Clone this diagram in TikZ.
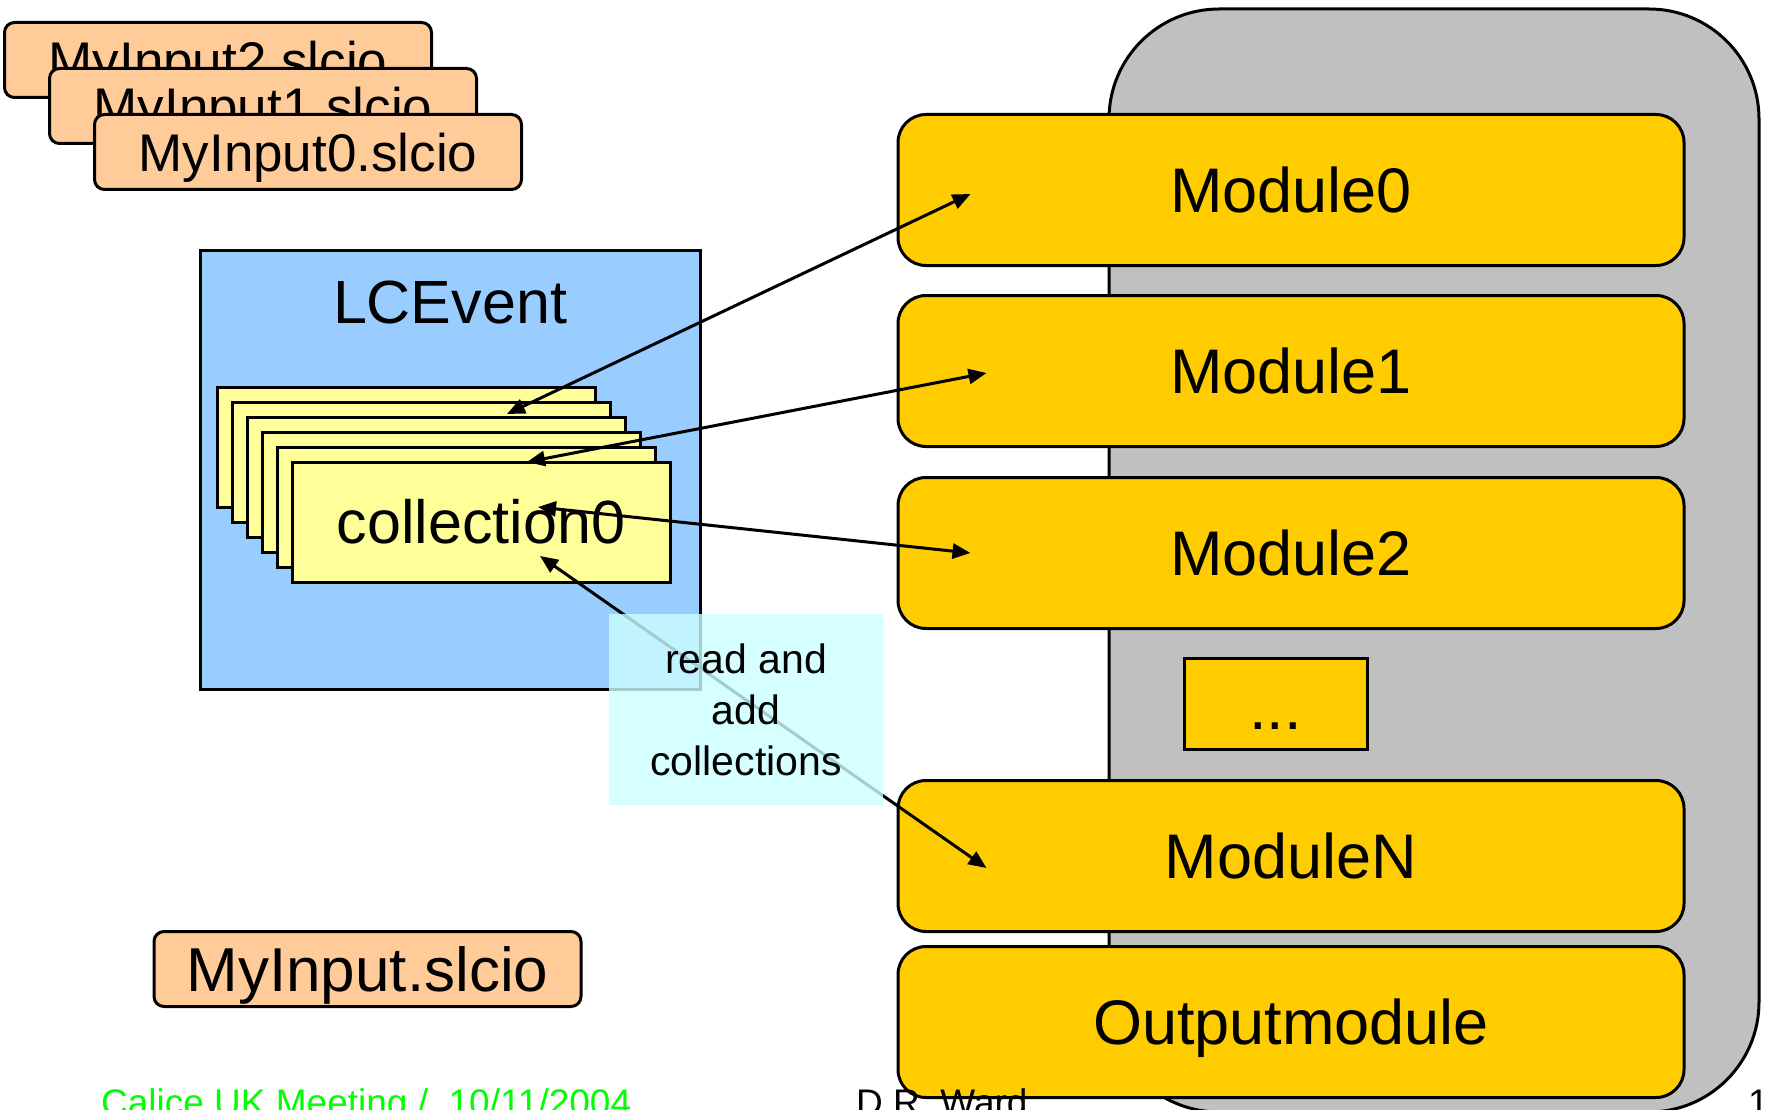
\documentclass[tikz,border=0pt]{standalone}
\usepackage{fontspec}
\setmainfont{Liberation Sans}
\usetikzlibrary{arrows.meta,positioning}
\definecolor{modyel}{HTML}{FFCC00}
\definecolor{filorg}{HTML}{FFCC99}
\definecolor{evblue}{HTML}{99CCFF}
\definecolor{colyel}{HTML}{FFFF99}
\definecolor{notecy}{HTML}{CCFFFF}
\definecolor{pangray}{HTML}{C0C0C0}
\definecolor{footgrn}{HTML}{00FF00}
\newcommand\sz[2]{\fontsize{#1}{#2}\selectfont}
\tikzset{
 mx/.style={rectangle,rounded corners=28pt,draw,line width=3pt,fill=modyel,inner sep=0pt,
  minimum width=786pt,minimum height=151pt,font=\sz{63}{70},text depth=0pt},
 fx/.style={rectangle,rounded corners=10pt,draw,line width=3pt,fill=filorg,inner sep=0pt,
  minimum width=427pt,minimum height=75pt,text depth=0pt},
 cx/.style={rectangle,draw,line width=3pt,fill=colyel,inner sep=0pt,
  minimum width=378pt,minimum height=120pt},
 ax/.style={line width=3pt,{Triangle[length=18pt,width=15pt]}-{Triangle[length=18pt,width=15pt]}},
 tx/.style={anchor=base west,inner sep=0pt,font=\sz{37}{44}}}

\begin{document}
\begin{tikzpicture}[x=1pt,y=-1pt]
 \useasboundingbox (0,0) rectangle (1766,1110);
 % module chain
 \node[rectangle,rounded corners=110pt,draw,line width=3pt,fill=pangray,
  minimum width=650pt,minimum height=1103pt] (pn) at (1434,560.5) {};
 \node[mx] (m0) at (1291,190) {Module0};
 \node[mx] (m1) at (1291,371) {Module1};
 \node[mx] (m2) at (1291,553) {Module2};
 \node[mx,rounded corners=0pt,minimum width=183pt,minimum height=91pt,
  text height=52pt] (md) at (1275.5,703.5) {...};
 \node[mx] (mn) at (1291,856) {ModuleN};
 \node[mx] (mo) at (1291,1022) {Outputmodule};
 % input files
 \node[fx,font=\sz{53}{60}] (f2) at (218,60) {MyInput2.slcio};
 \node[fx,font=\sz{53}{60}] (f1) at (263,106) {MyInput1.slcio};
 \node[fx,font=\sz{53}{60}] (f0) at (308,152) {MyInput0.slcio};
 % event and its collections
 \node[rectangle,draw,line width=3pt,fill=evblue,inner sep=0pt,
  minimum width=500pt,minimum height=439pt] (ev) at (450,469.5) {};
 \node[inner sep=0pt,font=\sz{61}{70},below=32pt of ev.north] (evt) {LCEvent};
 \node[cx] (c5) at (406,447) {};
 \node[cx] (c4) at (421,462) {};
 \node[cx] (c3) at (436,477) {};
 \node[cx] (c2) at (451,492) {};
 \node[cx] (c1) at (466,507) {};
 \node[cx,font=\sz{61}{70},text depth=2pt] (c0) at (481,522) {collection0};
 \draw[ax] ([shift={(74,4)}]m0.west) -- ([shift={(26,-108)}]c0.center);
 \draw[ax] ([shift={(90,2)}]m1.west) -- ([shift={(46,-60)}]c0.center);
 \draw[ax] ([shift={(74,0)}]m2.west) -- ([shift={(57,-15)}]c0.center);
 \draw[ax] ([shift={(90,12)}]mn.west) -- ([shift={(59,34)}]c0.center);
 \node[rectangle,fill=notecy,fill opacity=0.8,text opacity=1,inner sep=0pt,
  minimum width=274pt,minimum height=191pt,align=center,font=\sz{41}{51}] (nt)
  at (746,709.5) {read and\\add\\collections};
 \node[fx,font=\sz{62}{70}] (fi) at (367.5,969) {MyInput.slcio};
 % footer
 \node[tx,text=footgrn] (ft1) at (101,1115) {Calice UK Meeting /\ \ 10/11/2004};
 \node[tx] (ft2) at (856,1115) {D.R. Ward};
 \node[tx] (ft3) at (1748,1115) {1};
\end{tikzpicture}
\end{document}
